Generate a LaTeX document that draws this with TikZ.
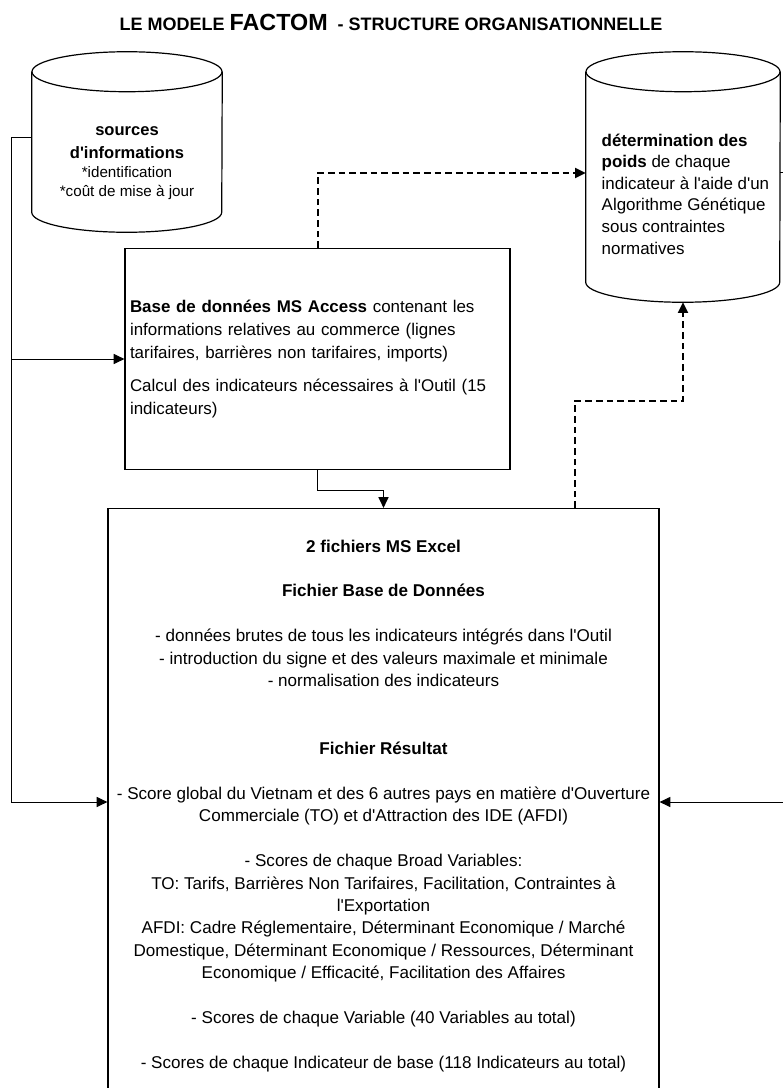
\documentclass[tikz,border=0pt]{standalone}
\usepackage{fontspec}
\setmainfont{Liberation Sans}[Ligatures=TeXOff]
\usetikzlibrary{positioning, arrows.meta, calc}

\begin{document}
\begin{tikzpicture}[x=0.75pt, y=-0.75pt,
    box/.style={draw, line width=0.9pt, rectangle, inner sep=0pt},
    cyl/.style={line width=0.9pt},
    arr/.style={line width=0.75pt, -{Triangle[length=8pt, width=7.5pt]}},
    dlink/.style={line width=1.5pt, dash pattern=on 5pt off 3pt, -{Triangle[length=8pt, width=7.5pt]}},
    body/.style={font=\fontsize{12.8}{16.85}\selectfont}]

    \path[fill=white] (0,0) rectangle (782,1088);
    \useasboundingbox (0,0) rectangle (782,1088);

    \node[font=\bfseries\fontsize{13.5}{15}\selectfont] (title) at (391,22)
        {LE MODELE {\fontsize{17.5}{19}\selectfont FACTOM}\ \ - STRUCTURE ORGANISATIONNELLE};

    % databases
    \node[minimum width=142.5pt, minimum height=135pt, inner sep=0pt] (src) at (127,142) {};
    \draw[cyl] ([yshift=-15pt]src.north west) -- ([yshift=15pt]src.south west)
        arc[start angle=180, end angle=360, x radius=71.25pt, y radius=15pt]
        -- ([yshift=-15pt]src.north east);
    \draw[cyl] ([yshift=-15pt]src.north) ellipse[x radius=71.25pt, y radius=15pt];
    \node[align=center, font=\fontsize{11.4}{14.3}\selectfont] (srctxt) at (127,163)
        {{\bfseries\fontsize{12.4}{14.3}\selectfont sources}\\[2.5pt]
         {\bfseries\fontsize{12.4}{14.3}\selectfont d'informations}\\
         *identification\\ *coût de mise à jour};

    \node[minimum width=145.5pt, minimum height=187.5pt, inner sep=0pt] (gen) at (683,177) {};
    \draw[cyl] ([yshift=-15pt]gen.north west) -- ([yshift=15pt]gen.south west)
        arc[start angle=180, end angle=360, x radius=72.75pt, y radius=15pt]
        -- ([yshift=-15pt]gen.north east);
    \draw[cyl] ([yshift=-15pt]gen.north) ellipse[x radius=72.75pt, y radius=15pt];
    \node[align=left, anchor=west, font=\fontsize{12.7}{16.2}\selectfont] (gentxt) at (597,194)
        {\textbf{détermination des}\\ \textbf{poids} de chaque\\ indicateur à l'aide d'un\\
         Algorithme Génétique\\ sous contraintes\\ normatives};

    % boxes
    \node[box, minimum width=288.75pt, minimum height=165.75pt, text width=281.25pt,
        align=left, font=\fontsize{12.7}{17.2}\selectfont] (access) at (317.5,359)
        {\textbf{Base de données MS Access} contenant les\\ informations relatives au commerce (lignes\\
         tarifaires, barrières non tarifaires, imports)\\[8pt]
         Calcul des indicateurs nécessaires à l'Outil (15\\ indicateurs)};

    \node[box, body, minimum width=413.25pt, minimum height=446.25pt, align=center] (excel) at (383.5,806)
        {\textbf{2 fichiers MS Excel}\\[16.85pt]
         \textbf{Fichier Base de Données}\\[16.85pt]
         - données brutes de tous les indicateurs intégrés dans l'Outil\\
         - introduction du signe et des valeurs maximale et minimale\\
         - normalisation des indicateurs\\[33.7pt]
         \textbf{Fichier Résultat}\\[16.85pt]
         - Score global du Vietnam et des 6 autres pays en matière d'Ouverture\\
         Commerciale (TO) et d'Attraction des IDE (AFDI)\\[16.85pt]
         - Scores de chaque Broad Variables:\\
         TO: Tarifs, Barrières Non Tarifaires, Facilitation, Contraintes à\\
         l'Exportation\\
         AFDI: Cadre Réglementaire, Déterminant Economique / Marché\\
         Domestique, Déterminant Economique / Ressources, Déterminant\\
         Economique / Efficacité, Facilitation des Affaires\\[16.85pt]
         - Scores de chaque Variable (40 Variables au total)\\[16.85pt]
         - Scores de chaque Indicateur de base (118 Indicateurs au total)};

    % Draw edges
    \coordinate (lbus) at (11,137);
    \coordinate (gbend) at (575,401);
    \draw[arr] ([yshift=3.75pt]src.west) -- (lbus) |- ([yshift=3pt]excel.west);
    \draw[arr] (lbus |- access.west) -- (access.west);
    \draw[arr] ([yshift=3.75pt]gen.east) -- ++(15,0) |- ([yshift=3pt]excel.east);
    \draw[arr] (access.south) -- ++(0,20) -| (excel.north);
    \draw[dlink] (access.north) |- ([yshift=3pt]gen.west);
    \draw[dlink] (gbend |- excel.north) -- (gbend) -| (gen.south);
\end{tikzpicture}
\end{document}
